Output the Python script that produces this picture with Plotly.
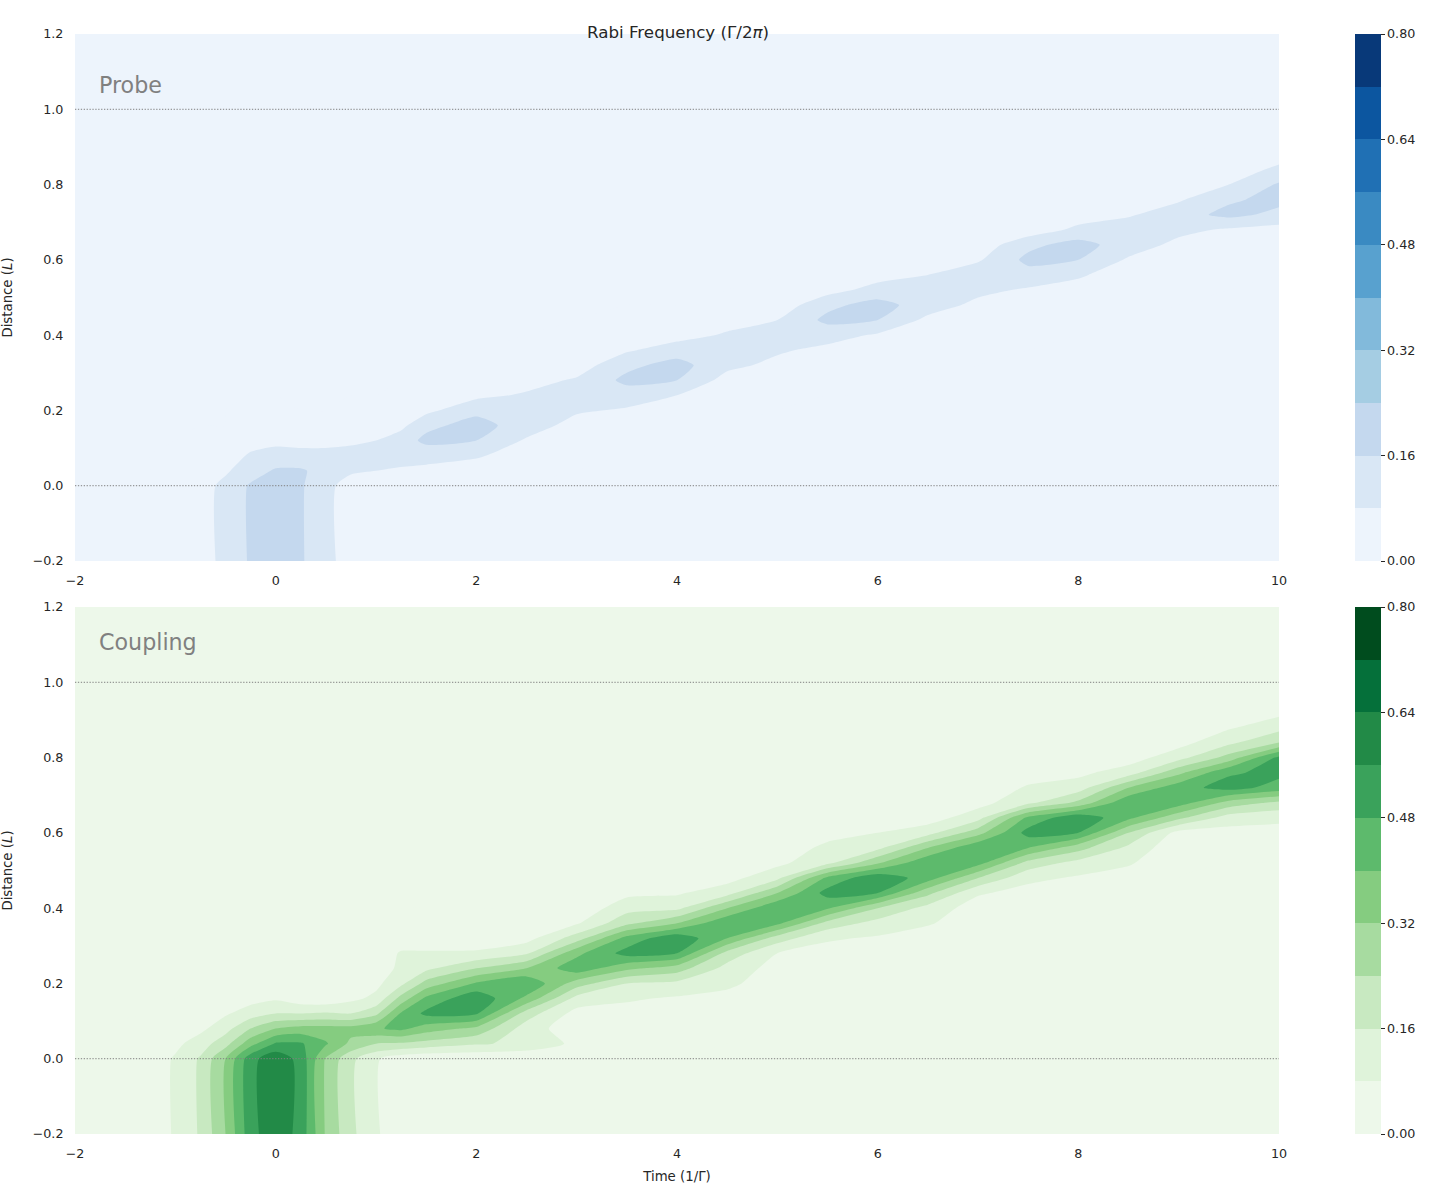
import plotly.graph_objects as go

time_points = [-2, -1.25, -1, -0.75, -0.5, -0.25, 0, 0.25, 0.5, 0.75, 1, 1.25, 1.5, 2, 2.5, 3,
               3.5, 4, 4.5, 5, 5.5, 6, 6.5, 7, 7.5, 8, 8.5, 9, 9.5, 10]
distance_points = [-0.2, 0, 0.04, 0.08, 0.12, 0.16, 0.2, 0.24, 0.28, 0.32, 0.36, 0.4, 0.44, 0.48,
                   0.52, 0.56, 0.6, 0.64, 0.68, 0.72, 0.76, 0.8, 0.84, 0.88, 0.92, 1.2]

# Rabi frequency in hundredths, one list per time point, from the lowest distance upward.
probe_by_time = [
    [],
    [0, 0],
    [2, 2, 1, 1],
    [5, 5, 3, 2, 1],
    [10, 10, 7, 4, 2],
    [17, 17, 12, 9, 5, 2, 1],
    [20, 20, 17, 11, 6, 3, 1],
    [17, 17, 17, 11, 5, 2],
    [10, 10, 13, 11, 5, 2],
    [5, 5, 9, 12, 6, 3, 1],
    [2, 2, 8, 12, 8, 4, 2],
    [1, 1, 7, 11, 12, 6, 3, 1],
    [0, 1, 6, 11, 18, 14, 6, 3, 1],
    [0, 1, 4, 9, 16, 19, 14, 6, 2, 1],
    [0, 0, 1, 4, 7, 12, 13, 9, 5, 2, 1],
    [0, 0, 0, 1, 3, 5, 9, 13, 9, 4, 2, 1],
    [0, 0, 0, 0, 2, 4, 7, 12, 18, 14, 7, 3, 1],
    [0, 0, 0, 0, 1, 2, 4, 8, 16, 19, 12, 5, 2],
    [0, 0, 0, 0, 0, 0, 1, 3, 5, 10, 14, 9, 5, 2],
    [0, 0, 0, 0, 0, 0, 0, 1, 3, 6, 9, 13, 8, 3, 1],
    [0, 0, 0, 0, 0, 0, 0, 0, 1, 3, 6, 11, 18, 14, 5, 2, 1],
    [0, 0, 0, 0, 0, 0, 0, 0, 1, 2, 4, 7, 16, 19, 11, 5, 2],
    [0, 0, 0, 0, 0, 0, 0, 0, 0, 1, 2, 3, 6, 12, 13, 8, 3, 1],
    [0, 0, 0, 0, 0, 0, 0, 0, 0, 0, 1, 2, 3, 6, 10, 13, 7, 3, 1],
    [0, 0, 0, 0, 0, 0, 0, 0, 0, 0, 0, 1, 2, 3, 7, 13, 18, 14, 3, 2],
    [0, 0, 0, 0, 0, 0, 0, 0, 0, 0, 0, 0, 1, 2, 5, 9, 16, 19, 10, 4, 1],
    [0, 0, 0, 0, 0, 0, 0, 0, 0, 0, 0, 0, 0, 1, 2, 4, 7, 12, 13, 7, 3, 1],
    [0, 0, 0, 0, 0, 0, 0, 0, 0, 0, 0, 0, 0, 0, 1, 2, 3, 6, 10, 13, 7, 3, 1],
    [0, 0, 0, 0, 0, 0, 0, 0, 0, 0, 0, 0, 0, 0, 0, 1, 2, 3, 7, 18, 15, 8, 3, 1],
    [0, 0, 0, 0, 0, 0, 0, 0, 0, 0, 0, 0, 0, 0, 0, 0, 1, 2, 5, 14, 18, 17, 10, 4, 2],
]
coupling_by_time = [
    [],
    [3, 3, 2, 1],
    [9, 9, 6, 3, 1],
    [17, 17, 12, 6, 3, 1],
    [32, 32, 21, 13, 7, 3, 1],
    [53, 53, 37, 24, 12, 5, 3, 1],
    [62, 62, 49, 32, 16, 7, 3, 1],
    [53, 53, 49, 35, 16, 3, 1],
    [31, 31, 41, 35, 17, 2, 1],
    [18, 18, 30, 35, 16, 6, 2],
    [9, 9, 24, 39, 22, 10, 6, 3, 2],
    [3, 3, 23, 42, 41, 27, 14, 10, 9, 3, 1],
    [1, 1, 21, 36, 50, 42, 27, 14, 9, 3, 1],
    [0, 1, 17, 30, 49, 54, 41, 24, 9, 4, 1],
    [0, 1, 14, 12, 20, 38, 47, 32, 15, 5, 2],
    [0, 1, 6, 3, 5, 13, 28, 45, 38, 20, 7, 2],
    [0, 0, 2, 2, 5, 9, 16, 34, 51, 43, 22, 13, 6, 2],
    [0, 0, 1, 1, 3, 7, 14, 28, 48, 54, 32, 14, 7, 3, 1],
    [0, 0, 0, 1, 2, 5, 10, 13, 21, 40, 47, 32, 13, 5, 2],
    [0, 0, 0, 0, 0, 1, 3, 5, 8, 20, 42, 47, 32, 14, 6, 3, 1],
    [0, 0, 0, 0, 0, 0, 1, 2, 5, 9, 21, 41, 51, 42, 14, 10, 5, 2],
    [0, 0, 0, 0, 0, 0, 0, 1, 3, 7, 13, 24, 48, 54, 31, 14, 8, 3, 1],
    [0, 0, 0, 0, 0, 0, 0, 0, 1, 3, 9, 13, 26, 44, 47, 32, 13, 4, 1],
    [0, 0, 0, 0, 0, 0, 0, 0, 0, 0, 2, 4, 9, 24, 43, 47, 29, 13, 5, 2],
    [0, 0, 0, 0, 0, 0, 0, 0, 0, 0, 0, 2, 5, 10, 21, 40, 51, 42, 14, 9, 4, 1],
    [0, 0, 0, 0, 0, 0, 0, 0, 0, 0, 0, 1, 3, 7, 13, 27, 48, 54, 26, 12, 6, 2],
    [0, 0, 0, 0, 0, 0, 0, 0, 0, 0, 0, 0, 2, 4, 9, 14, 24, 42, 47, 32, 12, 4, 1],
    [0, 0, 0, 0, 0, 0, 0, 0, 0, 0, 0, 0, 0, 0, 1, 2, 5, 26, 44, 45, 30, 13, 5, 2],
    [0, 0, 0, 0, 0, 0, 0, 0, 0, 0, 0, 0, 0, 0, 0, 2, 5, 12, 29, 51, 47, 27, 14, 7, 3],
    [0, 0, 0, 0, 0, 0, 0, 0, 0, 0, 0, 0, 0, 0, 0, 2, 5, 10, 22, 45, 50, 50, 24, 13, 6],
]

blues = ["#edf4fc", "#d9e7f5", "#c4d8ee", "#a5cde3", "#82badb",
         "#58a1cf", "#3a8ac2", "#2070b4", "#0c56a0", "#083979"]
greens = ["#edf8ea", "#dff3da", "#c8e9c1", "#a7dba0", "#85cc80",
          "#5dba6c", "#3aa25b", "#228a47", "#05703a", "#004c1e"]
colorbar_ticks = [0, 0.16, 0.32, 0.48, 0.64, 0.8]
distance_ticks = [-0.2, 0, 0.2, 0.4, 0.6, 0.8, 1.0, 1.2]
time_ticks = [-2, 0, 2, 4, 6, 8, 10]
guide_distances = [0, 1]

FONT = "DejaVu Sans"
TEXT = "#262626"
W, H = 1431, 1189
L, R, T, B = 75, 1279, 34, 1134
PW, PH = R - L, B - T


def px_x(p):
    return (p - L) / PW


def px_y(p):
    return 1 - (p - T) / PH


def grid(columns):
    full = [c + [0] * (len(distance_points) - len(c)) for c in columns]
    return [[v / 100 for v in row] for row in zip(*full)]


def stepped(colors):
    n = len(colors)
    scale = []
    for i, c in enumerate(colors):
        scale += [[i / n, c], [(i + 1) / n, c]]
    return scale


def contour(columns, colors, xaxis, yaxis, top, bottom):
    return go.Contour(
        x=time_points, y=distance_points, z=grid(columns),
        xaxis=xaxis, yaxis=yaxis,
        zmin=0, zmax=0.8, autocontour=False,
        contours=dict(start=0, end=0.8, size=0.08, coloring="fill", showlines=False),
        line=dict(width=0, smoothing=0.6),
        colorscale=stepped(colors),
        hoverinfo="skip",
        colorbar=dict(
            x=px_x(1355), xanchor="left", xpad=0, thickness=26, thicknessmode="pixels",
            y=px_y(bottom), yanchor="bottom", ypad=0,
            len=(bottom - top) / PH, lenmode="fraction",
            tickmode="array", tickvals=colorbar_ticks, tickformat=".2f",
            ticks="outside", ticklen=4, tickwidth=1, tickcolor=TEXT,
            tickfont=dict(family=FONT, size=12.7, color=TEXT),
            outlinewidth=0, borderwidth=0,
        ),
    )


fig = go.Figure()
fig.add_trace(contour(probe_by_time, blues, "x", "y", 34, 561))
fig.add_trace(contour(coupling_by_time, greens, "x2", "y2", 607, 1134))

axis_x = dict(range=[-2, 10], domain=[0, 1], tickvals=time_ticks, showgrid=False,
              zeroline=False, showline=False, ticks="outside", ticklen=8, tickcolor="rgba(0,0,0,0)",
              tickfont=dict(family=FONT, size=12.7, color=TEXT))
axis_y = dict(range=[-0.2, 1.2], tickvals=distance_ticks, tickformat=".1f", showgrid=False,
              zeroline=False, showline=False, ticks="outside", ticklen=8, tickcolor="rgba(0,0,0,0)",
              tickfont=dict(family=FONT, size=12.7, color=TEXT),
              title=dict(text="Distance (<i>L</i>)", standoff=18,
                         font=dict(family=FONT, size=13.3, color=TEXT)))

fig.update_layout(
    width=W, height=H, autosize=False,
    margin=dict(l=L, r=W - R, t=T, b=H - B, autoexpand=False),
    paper_bgcolor="white", plot_bgcolor="white", showlegend=False,
    xaxis=dict(axis_x, anchor="y"),
    yaxis=dict(axis_y, domain=[px_y(561), px_y(34)], anchor="x"),
    xaxis2=dict(axis_x, anchor="y2",
                title=dict(text="Time (1/Γ)", standoff=11,
                           font=dict(family=FONT, size=13.3, color=TEXT))),
    yaxis2=dict(axis_y, domain=[px_y(1134), px_y(607)], anchor="x2"),
)

for xr, yr in (("x", "y"), ("x2", "y2")):
    for d in guide_distances:
        fig.add_shape(type="line", xref=xr, yref=yr, x0=-2, x1=10, y0=d, y1=d,
                      line=dict(color="#808080", width=1, dash="1.3px,1.6px"), layer="above")

fig.add_annotation(xref="paper", yref="paper", x=px_x(677.5), y=px_y(20), showarrow=False,
                   text="Rabi Frequency (Γ/2<i>π</i>)",
                   font=dict(family=FONT, size=16.7, color=TEXT))
for label, x_pos, y_pos in (("Probe", 98, 70), ("Coupling", 98, 642)):
    fig.add_annotation(xref="paper", yref="paper", x=px_x(x_pos), y=px_y(y_pos), xanchor="left",
                       xshift=-1, showarrow=False, text=label,
                       font=dict(family=FONT, size=22.2, color="#808080"))

fig.write_html("out.html", config={"displayModeBar": False},
               post_script="document.body.style.margin='0';")
